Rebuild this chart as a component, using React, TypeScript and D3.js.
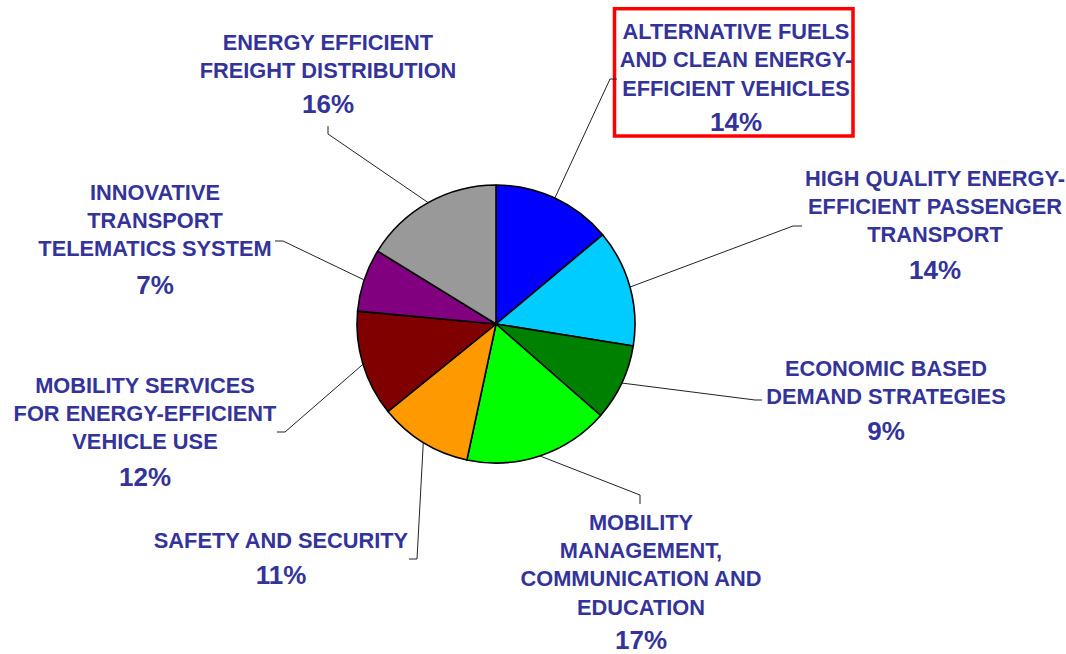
import React from "react";
import * as d3 from "d3";

const categories = [
  "ALTERNATIVE FUELS|AND CLEAN ENERGY-|EFFICIENT VEHICLES",
  "HIGH QUALITY ENERGY-|EFFICIENT PASSENGER|TRANSPORT",
  "ECONOMIC BASED|DEMAND STRATEGIES",
  "MOBILITY|MANAGEMENT,|COMMUNICATION AND|EDUCATION",
  "SAFETY AND SECURITY",
  "MOBILITY SERVICES|FOR ENERGY-EFFICIENT|VEHICLE USE",
  "INNOVATIVE|TRANSPORT|TELEMATICS SYSTEM",
  "ENERGY EFFICIENT|FREIGHT DISTRIBUTION",
];
const values = [13.9, 13.6, 8.9, 16.9, 10.8, 12.3, 7.3, 16.2];
const colors = ["#0000FF", "#00CCFF", "#008000", "#00FF00", "#FF9900", "#800000", "#800080", "#999999"];

// label layout: text center x, first line y, percent y, leader elbow & end
const labelX = [736, 935, 886, 641, 281, 145, 155, 328];
const labelY = [31.5, 178, 368, 522, 540, 385, 192, 42];
const pctY = [122, 270, 431, 639.5, 575, 477, 285, 104];
const elbows = [[610, 79], [793, 226], [755, 400], [640, 495], [417, 559], [285, 432], [283, 241], [328, 134]];
const ends = [[617, 79], [802, 226], [762, 400], [640, 504], [409, 559], [277, 432], [275, 241], [328, 126]];

const W = 1066, H = 654;
const cx = 496, cy = 324, R = 139;
const lineH = 28.4;
const textColor = "#333399";
const font = "'Liberation Sans', Arial, sans-serif";

export default function App() {
  const pie = d3.pie<number>().sort(null).value((d) => d);
  const arcs = pie(values);
  const arc = d3.arc<d3.PieArcDatum<number>>().innerRadius(0).outerRadius(R);
  const total = d3.sum(values);

  return (
    <svg width={W} height={H} style={{ position: "absolute", left: 0, top: 0, background: "#fff" }}>
      <rect x={614.5} y={8.7} width={238.5} height={127.3} fill="none" stroke="#FF0000" strokeWidth={3.5} />
      <g transform={`translate(${cx},${cy})`}>
        {arcs.map((a, i) => (
          <path key={i} d={arc(a) || ""} fill={colors[i]} stroke="#000" strokeWidth={1.6} strokeLinejoin="round" />
        ))}
      </g>
      {arcs.map((a, i) => {
        const mid = (a.startAngle + a.endAngle) / 2;
        const px = cx + R * Math.sin(mid);
        const py = cy - R * Math.cos(mid);
        return (
          <polyline
            key={"l" + i}
            points={`${px},${py} ${elbows[i][0]},${elbows[i][1]} ${ends[i][0]},${ends[i][1]}`}
            fill="none"
            stroke="#222"
            strokeWidth={1}
          />
        );
      })}
      {categories.map((c, i) => {
        const lines = c.split("|");
        return (
          <g key={"t" + i} fill={textColor} fontFamily={font} fontWeight="bold" textAnchor="middle">
            {lines.map((ln, j) => (
              <text key={j} x={labelX[i]} y={labelY[i] + j * lineH} fontSize={21.8} dominantBaseline="central">
                {ln}
              </text>
            ))}
            <text x={labelX[i]} y={pctY[i]} fontSize={26} dominantBaseline="central">
              {Math.round((values[i] / total) * 100)}%
            </text>
          </g>
        );
      })}
    </svg>
  );
}
